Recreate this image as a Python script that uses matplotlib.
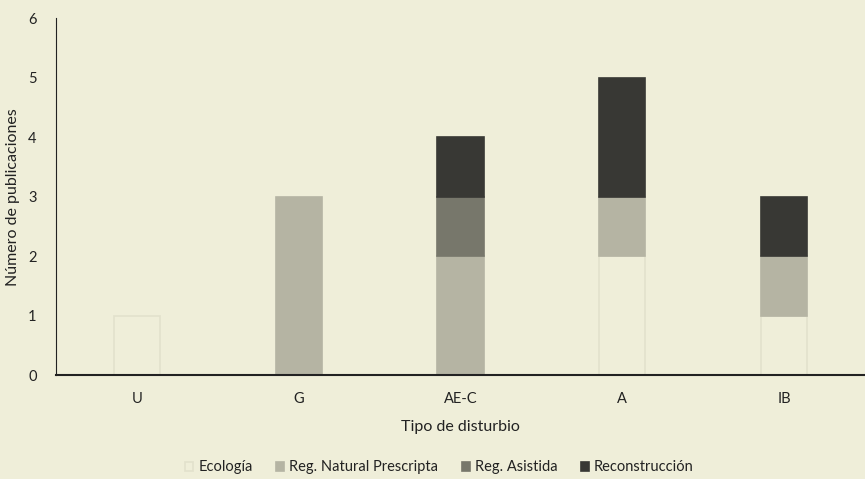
import numpy as np
import matplotlib.pyplot as plt

plt.rcParams['font.family'] = ['Lato', 'DejaVu Sans']
plt.rcParams['font.size'] = 11

categories = ['U', 'G', 'AE-C', 'A', 'IB']
ecologia = [1, 0, 0, 2, 1]
natural = [0, 3, 2, 1, 1]
asistida = [0, 0, 1, 0, 0]
reconstruccion = [0, 0, 1, 2, 1]

bg = '#efeed9'
series = [
    ('Ecología', ecologia, bg, '#e2e1cc'),
    ('Reg. Natural Prescripta', natural, '#b5b4a3', '#b5b4a3'),
    ('Reg. Asistida', asistida, '#77776b', '#77776b'),
    ('Reconstrucción', reconstruccion, '#383834', '#383834'),
]

fig = plt.figure(figsize=(8.65, 4.79), dpi=100, facecolor=bg)
ax = fig.add_axes([0.0647, 0.217, 0.9353, 0.745], facecolor=bg)

x = np.arange(len(categories))
bottom = np.zeros(len(categories))
for name, vals, fc, ec in series:
    vals = np.array(vals, dtype=float)
    nz = vals > 0
    ax.bar(x[nz], vals[nz], 0.285, bottom=bottom[nz], color=fc, edgecolor=ec,
           linewidth=1.2, label=name)
    bottom += vals

ax.set_xlim(-0.5, len(categories) - 0.5)
ax.set_ylim(0, 6)
ax.set_yticks(range(7))
ax.set_xticks(x)
ax.set_xticklabels(categories)
ax.tick_params(length=0, labelsize=10.5, colors='#222222')
ax.tick_params(axis='y', pad=14)
ax.tick_params(axis='x', pad=12)
for s in ['top', 'right']:
    ax.spines[s].set_visible(False)
ax.spines['left'].set_color('#222222')
ax.spines['bottom'].set_color('#222222')
ax.spines['bottom'].set_linewidth(1.5)

ax.set_xlabel('Tipo de disturbio', fontsize=11.5, color='#222222', labelpad=10)
ax.set_ylabel('Número de publicaciones', fontsize=11.5, color='#222222', labelpad=6)

leg = fig.legend(loc='lower center', bbox_to_anchor=(0.508, -0.018), ncol=4, frameon=False,
                 fontsize=10.5, handlelength=0.55, handleheight=0.55, handletextpad=0.35,
                 columnspacing=1.6)
for t in leg.get_texts():
    t.set_color('#222222')

fig.savefig('out.png', dpi=100, facecolor=bg)
